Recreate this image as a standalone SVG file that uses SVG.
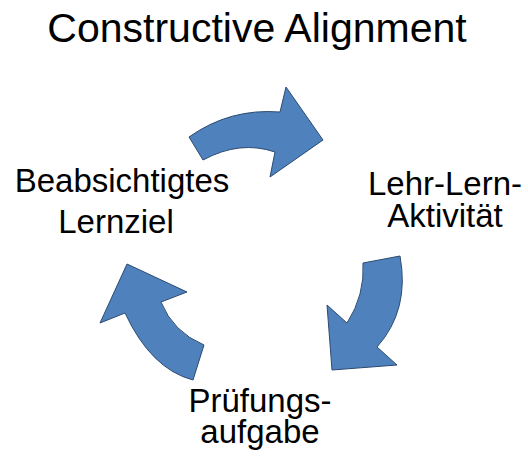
<svg xmlns="http://www.w3.org/2000/svg" width="528" height="459" viewBox="0 0 528 459">
<style>
text{font-family:"Liberation Sans",Arial,sans-serif;fill:#000;text-anchor:middle}
.t{font-size:41px}
.l{font-size:33px}
.arr{fill:#4F81BD;stroke:#2B4B70;stroke-width:1;stroke-linejoin:miter}
</style>
<rect width="528" height="459" fill="#fff"/>
<text class="t" x="257" y="42">Constructive Alignment</text>
<g id="connectors">
<path class="arr" d="M189,137 Q230,108 280,112 L286,87 L323,140 L270,177 L275,152 Q240,140 203,160 Z"/>
<path class="arr" d="M363,263 L400,256 Q410,310 377,347 L397,365 L332,370 L327,305 L347,323 Q365,295 363,263 Z"/>
<path class="arr" d="M204,345 L193,380 Q151,369 125,313 L100,323 L127,264 L187,292 L161,302 Q173,332 204,345 Z"/>
</g>
<g id="ziel">
<text class="l" x="122" y="192">Beabsichtigtes</text>
<text class="l" x="116" y="233">Lernziel</text>
</g>
<g id="aktivitaet">
<text class="l" x="445" y="195">Lehr-Lern-</text>
<text class="l" x="445" y="227">Aktivität</text>
</g>
<g id="pruefung">
<text class="l" x="260" y="412">Prüfungs-</text>
<text class="l" x="260" y="443">aufgabe</text>
</g>
</svg>
